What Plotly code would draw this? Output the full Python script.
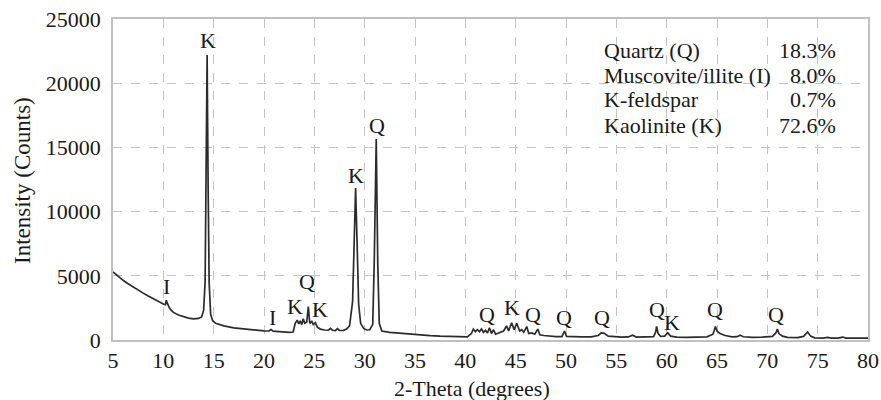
import plotly.graph_objects as go

# XRD pattern: 2-theta (degrees) vs intensity (counts)
two_theta = [
    5.0, 5.5, 6.0, 6.5, 7.0, 7.5, 8.0, 8.5, 9.0, 9.5, 10.0, 10.2, 10.3, 10.4, 10.6, 10.8,
    11.0, 11.5, 12.0, 12.5, 13.0, 13.5, 13.8, 14.0, 14.15, 14.25, 14.35, 14.45, 14.55, 14.7,
    14.9, 15.2, 15.6, 16.0, 17.0, 18.0, 19.0, 20.0, 20.5, 20.7, 20.9, 21.5, 22.0, 22.5, 22.9,
    23.1, 23.3, 23.45, 23.6, 23.75, 23.9, 24.05, 24.25, 24.4, 24.55, 24.75, 24.9, 25.1, 25.3,
    25.6, 26.0, 26.4, 26.6, 26.8, 27.1, 27.3, 27.5, 27.9, 28.2, 28.5, 28.8, 28.95, 29.1, 29.25,
    29.4, 29.6, 29.9, 30.2, 30.5, 30.8, 30.95, 31.15, 31.3, 31.45, 31.7, 32.5, 33.5, 34.5,
    35.5, 36.5, 37.5, 38.5, 39.5, 40.2, 40.6, 40.8, 41.0, 41.2, 41.4, 41.6, 41.8, 42.0, 42.2,
    42.4, 42.6, 42.8, 43.0, 43.4, 43.8, 44.1, 44.3, 44.6, 44.85, 45.1, 45.4, 45.6, 45.8, 46.1,
    46.3, 46.6, 46.9, 47.2, 47.4, 47.8, 48.3, 49.0, 49.6, 49.85, 50.05, 50.5, 51.5, 52.5, 53.2,
    53.5, 53.8, 54.2, 55.0, 55.5, 56.2, 56.6, 57.0, 58.0, 58.7, 58.9, 59.0, 59.15, 59.4, 59.8,
    60.1, 60.4, 61.0, 62.0, 63.0, 64.0, 64.6, 64.85, 65.0, 65.3, 65.8, 66.5, 67.0, 67.3, 67.6,
    68.5, 69.5, 70.5, 70.85, 71.0, 71.15, 71.5, 72.0, 73.0, 73.6, 74.0, 74.3, 74.7, 75.5, 76.0,
    76.4, 77.0, 77.5, 77.8, 78.5, 79.0, 80.0,
]
intensity = [
    5300, 4950, 4650, 4380, 4120, 3880, 3650, 3420, 3200, 3000, 2800, 2750, 3100, 2850, 2500, 2300,
    2150, 1950, 1800, 1700, 1650, 1680, 1800, 2300, 4500, 12000, 22200, 12000, 4500, 2000,
    1500, 1300, 1180, 1100, 950, 860, 780, 710, 700, 820, 690, 650, 620, 600, 620,
    1300, 1550, 1250, 1500, 1200, 1650, 1300, 1400, 2600, 1300, 1450, 1200, 1350, 1000,
    850, 780, 760, 900, 760, 740, 880, 740, 750, 850, 1100, 3000, 7500, 11840, 7500,
    2800, 1300, 900, 780, 800, 1200, 6000, 15650, 6000, 1300, 700, 600, 520, 450,
    390, 340, 300, 260, 230, 240, 500, 850, 650, 800, 650, 850, 600, 750, 550,
    950, 500, 800, 450, 550, 700, 1100, 700, 1350, 800, 1300, 700, 800, 600, 1050,
    500, 550, 450, 850, 400, 350, 300, 270, 260, 700, 280, 260, 240, 250, 350,
    550, 520, 300, 250, 230, 240, 380, 230, 230, 260, 600, 1050, 500, 280, 300,
    560, 300, 220, 200, 200, 250, 450, 1050, 700, 500, 350, 250, 260, 380, 250,
    200, 220, 280, 550, 850, 500, 300, 200, 180, 280, 620, 300, 170, 150, 200,
    150, 140, 230, 150, 150, 140, 150,
]

# Phase labels placed above the peaks
peak_labels = ["I", "K", "I", "K", "Q", "K", "K", "Q", "Q", "K", "Q", "Q", "Q", "Q", "K", "Q", "Q"]
label_x = [10.3, 14.4, 20.8, 23.1, 24.3, 25.6, 29.1, 31.2, 42.2, 44.6, 46.7, 49.8, 53.6, 59.0, 60.5, 64.8, 70.9]
label_y = [4150, 23300, 1750, 2600, 4550, 2350, 12850, 16700, 1950, 2500, 1950, 1720, 1720, 2350, 1330, 2350, 1950]

# Mineral composition table
phases = ["Quartz (Q)", "Muscovite/illite (I)", "K-feldspar", "Kaolinite (K)"]
fractions = ["18.3%", "8.0%", "0.7%", "72.6%"]

x_ticks = list(range(5, 81, 5))
y_ticks = list(range(0, 25001, 5000))

FONT = "Liberation Serif, Times New Roman, serif"
TXT = "#1a1a1a"
FS = 22

L, R, T, B = 113, 13, 19, 60
W, H = 881, 400
pw, ph = W - L - R, H - T - B


def px_x(v):
    return (v - L) / pw


def px_y(v):
    return 1 - (v - T) / ph


fig = go.Figure()
fig.add_trace(go.Scatter(
    x=two_theta, y=intensity, mode="lines",
    line=dict(color="#2b2b2b", width=1.7),
    hoverinfo="skip", showlegend=False,
))

annotations = []
for t, x, y in zip(peak_labels, label_x, label_y):
    annotations.append(dict(x=x, y=y, text=t, showarrow=False, xref="x", yref="y",
                            font=dict(family=FONT, size=FS, color=TXT)))

row_y = [50, 75, 100, 125]
for name, frac, py in zip(phases, fractions, row_y):
    annotations.append(dict(x=px_x(602), y=px_y(py), xref="paper", yref="paper", text=name,
                            showarrow=False, xanchor="left", yanchor="middle",
                            font=dict(family=FONT, size=FS, color=TXT)))
    annotations.append(dict(x=px_x(838), y=px_y(py), xref="paper", yref="paper", text=frac,
                            showarrow=False, xanchor="right", yanchor="middle",
                            font=dict(family=FONT, size=FS, color=TXT)))

# axis titles
annotations.append(dict(x=px_x(472), y=px_y(388), xref="paper", yref="paper",
                        text="2-Theta (degrees)", showarrow=False,
                        xanchor="center", yanchor="middle", font=dict(family=FONT, size=FS, color=TXT)))
annotations.append(dict(x=px_x(23), y=px_y(181), xref="paper", yref="paper",
                        text="Intensity (Counts)", showarrow=False, textangle=-90,
                        xanchor="center", yanchor="middle", font=dict(family=FONT, size=FS + 1, color=TXT)))

fig.update_layout(
    width=W, height=H,
    margin=dict(l=L, r=R, t=T, b=B, pad=0, autoexpand=False),
    paper_bgcolor="white", plot_bgcolor="white",
    font=dict(family=FONT, size=FS, color=TXT),
    annotations=annotations,
    xaxis=dict(
        range=[5, 80], tickvals=x_ticks, ticktext=[str(v) for v in x_ticks],
        showgrid=True, gridcolor="#c4c4c4", griddash="dash", gridwidth=1,
        showline=True, linecolor="#c0c0c0", linewidth=1.5, mirror=True,
        ticks="", automargin=False,
        zeroline=False, tickfont=dict(family=FONT, size=FS, color=TXT),
    ),
    yaxis=dict(
        range=[0, 25000], tickvals=y_ticks, ticktext=[str(v) for v in y_ticks],
        showgrid=True, gridcolor="#c4c4c4", griddash="dash", gridwidth=1,
        showline=True, linecolor="#c0c0c0", linewidth=1.5, mirror=True,
        ticks="outside", ticklen=6, tickcolor="rgba(0,0,0,0)", automargin=False,
        zeroline=False, tickfont=dict(family=FONT, size=FS, color=TXT),
    ),
)

fig.write_html("out.html")
